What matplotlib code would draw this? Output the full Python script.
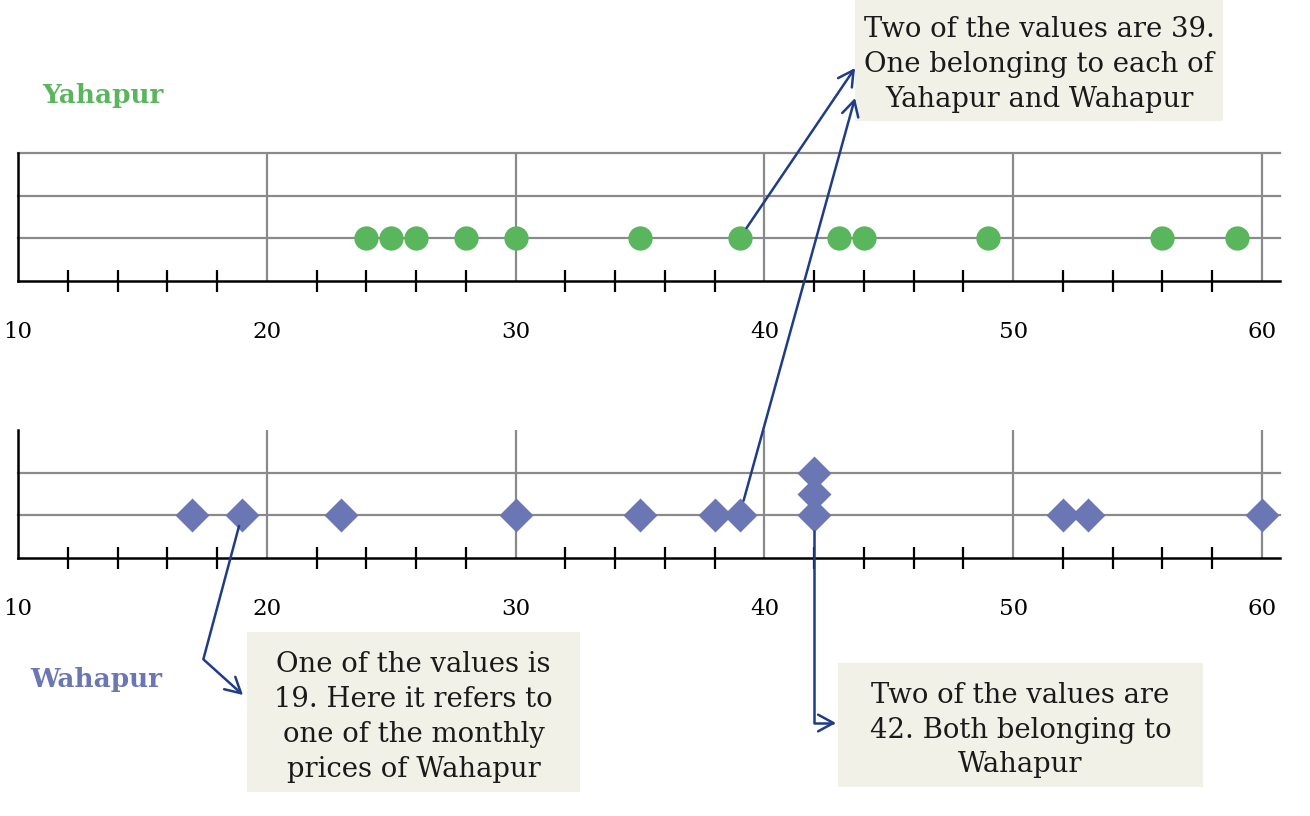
import numpy as np
import matplotlib
matplotlib.use("Agg")
from matplotlib import pyplot as plt
from matplotlib.patches import Rectangle

# monthly prices
yahapur = [24, 25, 26, 28, 30, 35, 39, 43, 44, 49, 56, 59]
wahapur = [17, 19, 23, 30, 35, 38, 39, 42, 42, 52, 53, 60]
major_ticks = [10, 20, 30, 40, 50, 60]
minor_ticks = [t for t in range(12, 60, 2) if t % 10 != 0]

note_39 = "Two of the values are 39.\nOne belonging to each of\nYahapur and Wahapur"
note_19 = "One of the values is\n19. Here it refers to\none of the monthly\nprices of Wahapur"
note_42 = "Two of the values are\n42. Both belonging to\nWahapur"

GREEN = "#5ab65d"
BLUE = "#6b76b4"
GRID = "#8a8a8a"
ARROW = "#1f3c88"
BOX = "#f2f1e8"
W, H = 1310, 816
X0, X10 = 18, 1262          # pixel positions of 10 and 60
XR = 1280                   # right end of the axis lines
UNIT = (X10 - X0) / 50

plt.rcParams["font.family"] = ["DejaVu Serif"]


def stack_levels(values):
    # dot plot: repeated values are stacked one level higher
    seen = {}
    levels = []
    for v in values:
        seen[v] = seen.get(v, 0) + 1
        levels.append(seen[v])
    return np.array(values), np.array(levels)


def setup_panel(ax, hlines):
    ax.set_xlim(10, 60 + (XR - X10) / UNIT)
    ax.set_ylim(0, 3)
    ax.set_xticks(major_ticks)
    ax.set_xticks(minor_ticks, minor=True)
    ax.set_yticks([])
    ax.tick_params(axis="x", which="major", length=0, pad=29, labelsize=16.5)
    ax.tick_params(axis="x", which="minor", direction="inout", length=16,
                   width=1.6, color="black")
    ax.grid(axis="x", which="major", color=GRID, lw=1.6)
    for h in hlines:
        ax.axhline(h, color=GRID, lw=1.6, zorder=1, clip_on=False)
    for s in ["top", "right"]:
        ax.spines[s].set_visible(False)
    ax.spines["bottom"].set_linewidth(1.8)
    ax.spines["left"].set_linewidth(1.8)
    ax.set_axisbelow(True)


fig = plt.figure(figsize=(W / 100, H / 100), dpi=100)
ax1 = fig.add_axes([X0 / W, 1 - 281 / H, (XR - X0) / W, 128 / H])
ax2 = fig.add_axes([X0 / W, 1 - 558 / H, (XR - X0) / W, 128 / H])
setup_panel(ax1, [1, 2, 3])
setup_panel(ax2, [1, 2])

yx, yl = stack_levels(yahapur)
ax1.plot(yx, yl, "o", ms=17.5, color=GREEN, mec="none", clip_on=False, zorder=3)

wx, wl = stack_levels(wahapur)
ax2.plot(wx, wl, "D", ms=17, color=BLUE, mec="none", clip_on=False, zorder=3)
# in-between diamond where two values share a position
dup = [v for v in set(wahapur) if wahapur.count(v) > 1]
for v in dup:
    ax2.plot([v], [1.5], "D", ms=17, color=BLUE, mec="none", zorder=3)

# overlay in pixel coordinates for notes and arrows
ov = fig.add_axes([0, 0, 1, 1])
ov.set_xlim(0, W)
ov.set_ylim(H, 0)
ov.axis("off")
ov.patch.set_alpha(0)

fig.text(42 / W, 1 - 96 / H, "Yahapur", color=GREEN, fontsize=19,
         fontweight="bold", va="center", ha="left")
fig.text(30 / W, 1 - 680 / H, "Wahapur", color=BLUE, fontsize=19,
         fontweight="bold", va="center", ha="left")


def note(x0, y0, x1, y1, text):
    ov.add_patch(Rectangle((x0, y0), x1 - x0, y1 - y0, color=BOX, lw=0))
    ov.text((x0 + x1) / 2, (y0 + y1) / 2 + 5, text, ha="center", va="center",
            fontsize=19.8, color="#1a1a1a", linespacing=1.37)


note(855, -2, 1223, 121, note_39)
note(247, 632, 580, 792, note_19)
note(838, 663, 1203, 787, note_42)

arrow = dict(arrowstyle="->,head_length=0.55,head_width=0.3", color=ARROW,
             lw=1.8, mutation_scale=20, shrinkB=0)
i39 = yahapur.index(39)
ov.annotate("", xy=(855, 68), xytext=(yx[i39], yl[i39]),
            textcoords=ax1.transData,
            arrowprops=dict(arrow, shrinkA=9))
j39 = wahapur.index(39)
ov.annotate("", xy=(855, 98), xytext=(wx[j39], wl[j39]),
            textcoords=ax2.transData,
            arrowprops=dict(arrow, shrinkA=11))
j19 = wahapur.index(19)
ov.annotate("", xy=(243, 695), xytext=(wx[j19], wl[j19]),
            textcoords=ax2.transData,
            arrowprops=dict(arrow, shrinkA=8,
                            connectionstyle="angle,angleA=75,angleB=138,rad=0"))
j42 = wahapur.index(42)
ov.annotate("", xy=(836, 723), xytext=(wx[j42], wl[j42]),
            textcoords=ax2.transData,
            arrowprops=dict(arrow, shrinkA=11,
                            connectionstyle="angle,angleA=90,angleB=0,rad=0"))

fig.savefig("out.png", dpi=100)
